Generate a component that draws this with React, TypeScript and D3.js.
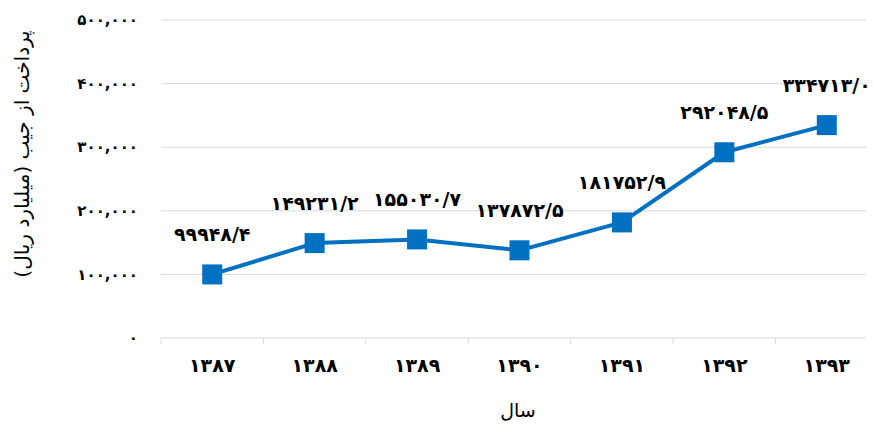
import React from "react";
import * as d3 from "d3";

const years = [1387, 1388, 1389, 1390, 1391, 1392, 1393];
const payments = [99948.4, 149231.2, 155030.7, 137872.5, 181752.9, 292048.5, 334713.0];
const yTicks = [0, 100000, 200000, 300000, 400000, 500000];

const W = 873;
const H = 428;
const BLUE = "#0070C0";
const GRID = "#d9d9d9";
const FONT = "'DejaVu Sans', sans-serif";

const faDigits = (s: string) => s.replace(/[0-9]/g, (d) => "۰۱۲۳۴۵۶۷۸۹"[+d]);

const fmtLabel = (v: number) => faDigits(v.toFixed(1).replace(".", "/"));
const fmtTick = (v: number) => faDigits(d3.format(",")(v));

export default function App() {
    const x = d3.scaleBand<number>().domain(years).range([161, 878]);
    const y = d3.scaleLinear().domain([0, 500000]).range([338, 20]);

    const pts = years.map((yr, i) => ({ yr, v: payments[i] }));
    const line = d3
        .line<{ yr: number; v: number }>()
        .x((d) => x(d.yr)! + x.bandwidth() / 2)
        .y((d) => y(d.v));

    return (
        <svg
            width={W}
            height={H}
            style={{ position: "absolute", left: 0, top: 0, background: "#fff" }}
            fontFamily={FONT}
        >
            {/* grid */}
            {yTicks.map((t) => (
                <line key={t} x1={161} x2={866} y1={y(t)} y2={y(t)} stroke={GRID} strokeWidth={1} />
            ))}
            {/* x axis ticks */}
            {years.map((yr) => (
                <line key={yr} x1={x(yr)!} x2={x(yr)!} y1={y(0)} y2={y(0) + 6} stroke={GRID} />
            ))}
            {/* y tick labels */}
            {yTicks.map((t) => (
                <text key={t} x={138} y={y(t)} dy="0.35em" textAnchor="end" fontSize={15} fontWeight="bold" fill="#000">
                    {fmtTick(t)}
                </text>
            ))}
            {/* x tick labels */}
            {years.map((yr) => (
                <text key={yr} x={x(yr)! + x.bandwidth() / 2} y={365} dy="0.35em" textAnchor="middle" fontSize={19} fontWeight="bold" fill="#000">
                    {faDigits(String(yr))}
                </text>
            ))}
            {/* series */}
            <path d={line(pts)!} fill="none" stroke={BLUE} strokeWidth={4} strokeLinejoin="round" />
            {pts.map((d) => (
                <rect
                    key={d.yr}
                    x={x(d.yr)! + x.bandwidth() / 2 - 10}
                    y={y(d.v) - 10}
                    width={20}
                    height={20}
                    fill={BLUE}
                />
            ))}
            {pts.map((d) => (
                <text
                    key={d.yr}
                    x={x(d.yr)! + x.bandwidth() / 2}
                    y={y(d.v) - 40}
                    dy="0.35em"
                    textAnchor="middle"
                    fontSize={19}
                    fontWeight="bold"
                    fill="#000"
                >
                    {fmtLabel(d.v)}
                </text>
            ))}
            {/* axis titles */}
            <text
                transform={`translate(22,154) rotate(-90)`}
                textAnchor="middle"
                dy="0.35em"
                direction="rtl"
                fontSize={20}
                fill="#000"
            >
                پرداخت از جیب (میلیارد ریال)
            </text>
            <text x={518} y={410} dy="0.35em" textAnchor="middle" direction="rtl" fontSize={19} fill="#000">
                سال
            </text>
        </svg>
    );
}
